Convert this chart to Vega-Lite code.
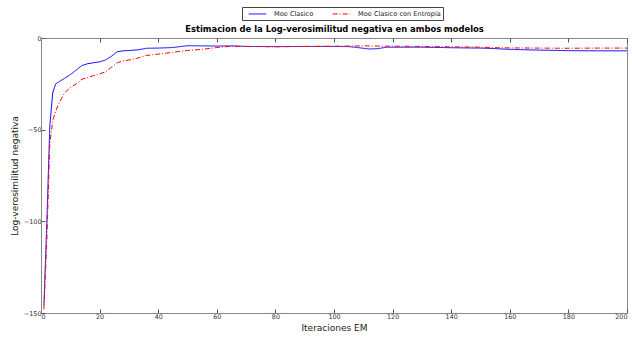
{
  "$schema": "https://vega.github.io/schema/vega-lite/v6.json",
  "autosize": {"type": "none"},
  "width": 586,
  "height": 275,
  "padding": {"left": 41, "top": 38, "right": 5, "bottom": 24},
  "background": "white",
  "config": {
    "font": "DejaVu Sans",
    "view": {"stroke": "#888888", "strokeWidth": 1},
    "axis": {"grid": false, "domainColor": "#888888", "tickColor": "#555555", "labelFont": "DejaVu Sans", "titleFont": "DejaVu Sans", "labelColor": "#333333", "titleColor": "#222222", "labelFontSize": 6.4, "titleFontSize": 9, "titleFontWeight": "normal", "tickSize": -4}
  },
  "data": {"values": [
    {"it":1,"v":-145.5,"s":"Moe Clasico"},{"it":2,"v":-100,"s":"Moe Clasico"},{"it":3,"v":-48,"s":"Moe Clasico"},{"it":4,"v":-30,"s":"Moe Clasico"},{"it":5,"v":-25,"s":"Moe Clasico"},{"it":6,"v":-24,"s":"Moe Clasico"},{"it":8,"v":-22,"s":"Moe Clasico"},{"it":10,"v":-20,"s":"Moe Clasico"},{"it":12,"v":-17.5,"s":"Moe Clasico"},{"it":14,"v":-15,"s":"Moe Clasico"},{"it":16,"v":-14,"s":"Moe Clasico"},{"it":18,"v":-13.5,"s":"Moe Clasico"},{"it":20,"v":-13,"s":"Moe Clasico"},{"it":22,"v":-12,"s":"Moe Clasico"},{"it":24,"v":-10,"s":"Moe Clasico"},{"it":26,"v":-7.5,"s":"Moe Clasico"},{"it":28,"v":-7,"s":"Moe Clasico"},{"it":30,"v":-6.8,"s":"Moe Clasico"},{"it":33,"v":-6.5,"s":"Moe Clasico"},{"it":36,"v":-5.6,"s":"Moe Clasico"},{"it":40,"v":-5.5,"s":"Moe Clasico"},{"it":45,"v":-5.2,"s":"Moe Clasico"},{"it":50,"v":-4.2,"s":"Moe Clasico"},{"it":55,"v":-4.3,"s":"Moe Clasico"},{"it":60,"v":-4.4,"s":"Moe Clasico"},{"it":65,"v":-4.3,"s":"Moe Clasico"},{"it":70,"v":-4.6,"s":"Moe Clasico"},{"it":80,"v":-4.7,"s":"Moe Clasico"},{"it":90,"v":-4.6,"s":"Moe Clasico"},{"it":100,"v":-4.6,"s":"Moe Clasico"},{"it":105,"v":-4.7,"s":"Moe Clasico"},{"it":108,"v":-5.2,"s":"Moe Clasico"},{"it":112,"v":-6,"s":"Moe Clasico"},{"it":115,"v":-5.8,"s":"Moe Clasico"},{"it":118,"v":-5,"s":"Moe Clasico"},{"it":125,"v":-5,"s":"Moe Clasico"},{"it":130,"v":-5,"s":"Moe Clasico"},{"it":140,"v":-5.3,"s":"Moe Clasico"},{"it":150,"v":-5.5,"s":"Moe Clasico"},{"it":155,"v":-5.8,"s":"Moe Clasico"},{"it":160,"v":-6.2,"s":"Moe Clasico"},{"it":170,"v":-6.6,"s":"Moe Clasico"},{"it":180,"v":-6.9,"s":"Moe Clasico"},{"it":190,"v":-7,"s":"Moe Clasico"},{"it":200,"v":-7,"s":"Moe Clasico"},
    {"it":1,"v":-148,"s":"Moe Clasico con Entropia"},{"it":2,"v":-110,"s":"Moe Clasico con Entropia"},{"it":3,"v":-58,"s":"Moe Clasico con Entropia"},{"it":4,"v":-45,"s":"Moe Clasico con Entropia"},{"it":5,"v":-40,"s":"Moe Clasico con Entropia"},{"it":6,"v":-36,"s":"Moe Clasico con Entropia"},{"it":8,"v":-30,"s":"Moe Clasico con Entropia"},{"it":10,"v":-27,"s":"Moe Clasico con Entropia"},{"it":12,"v":-25,"s":"Moe Clasico con Entropia"},{"it":14,"v":-22.5,"s":"Moe Clasico con Entropia"},{"it":16,"v":-21.5,"s":"Moe Clasico con Entropia"},{"it":18,"v":-20.5,"s":"Moe Clasico con Entropia"},{"it":20,"v":-19.5,"s":"Moe Clasico con Entropia"},{"it":22,"v":-18.5,"s":"Moe Clasico con Entropia"},{"it":24,"v":-16,"s":"Moe Clasico con Entropia"},{"it":26,"v":-13.5,"s":"Moe Clasico con Entropia"},{"it":28,"v":-12.5,"s":"Moe Clasico con Entropia"},{"it":30,"v":-12,"s":"Moe Clasico con Entropia"},{"it":33,"v":-11,"s":"Moe Clasico con Entropia"},{"it":36,"v":-9.5,"s":"Moe Clasico con Entropia"},{"it":40,"v":-8.8,"s":"Moe Clasico con Entropia"},{"it":45,"v":-7.8,"s":"Moe Clasico con Entropia"},{"it":50,"v":-6.8,"s":"Moe Clasico con Entropia"},{"it":55,"v":-6.2,"s":"Moe Clasico con Entropia"},{"it":60,"v":-5.2,"s":"Moe Clasico con Entropia"},{"it":65,"v":-4.5,"s":"Moe Clasico con Entropia"},{"it":70,"v":-4.6,"s":"Moe Clasico con Entropia"},{"it":80,"v":-4.8,"s":"Moe Clasico con Entropia"},{"it":90,"v":-4.6,"s":"Moe Clasico con Entropia"},{"it":100,"v":-4.5,"s":"Moe Clasico con Entropia"},{"it":110,"v":-4.3,"s":"Moe Clasico con Entropia"},{"it":120,"v":-4.5,"s":"Moe Clasico con Entropia"},{"it":130,"v":-4.6,"s":"Moe Clasico con Entropia"},{"it":140,"v":-4.8,"s":"Moe Clasico con Entropia"},{"it":150,"v":-5,"s":"Moe Clasico con Entropia"},{"it":155,"v":-5.3,"s":"Moe Clasico con Entropia"},{"it":160,"v":-5.4,"s":"Moe Clasico con Entropia"},{"it":170,"v":-5.5,"s":"Moe Clasico con Entropia"},{"it":180,"v":-5.6,"s":"Moe Clasico con Entropia"},{"it":190,"v":-5.5,"s":"Moe Clasico con Entropia"},{"it":200,"v":-5.5,"s":"Moe Clasico con Entropia"}
  ]},
  "layer": [
    {
      "mark": {"type": "line", "strokeWidth": 1, "clip": true},
      "encoding": {
        "x": {"field": "it", "type": "quantitative", "scale": {"domain": [0, 200], "nice": false, "zero": false}, "axis": {"orient": "bottom", "title": "Iteraciones EM", "values": [0,20,40,60,80,100,120,140,160,180,200], "labelPadding": 4, "titlePadding": 4}},
        "y": {"field": "v", "type": "quantitative", "scale": {"domain": [-150, 0], "nice": false}, "axis": {"title": "Log-verosimilitud negativa", "values": [-150,-100,-50,0], "labelPadding": 4, "titlePadding": 4}},
        "color": {"field": "s", "type": "nominal", "scale": {"domain": ["Moe Clasico", "Moe Clasico con Entropia"], "range": ["#0000ff", "#ff0000"]}, "legend": {"title": null, "orient": "none", "legendX": 201, "legendY": -31, "direction": "horizontal", "strokeColor": "#444444", "padding": 2, "fillColor": "white", "symbolType": "M-2.2,0H2.2", "symbolSize": 64, "symbolStrokeWidth": 1, "symbolOffset": 9, "labelOffset": 12, "labelFontSize": 6.6, "labelFont": "DejaVu Sans", "labelColor": "#222222", "columnPadding": 14}},
        "strokeDash": {"field": "s", "type": "nominal", "scale": {"domain": ["Moe Clasico", "Moe Clasico con Entropia"], "range": [[1, 0], [5, 2, 1, 2]]}, "legend": null}
      }
    },
    {
      "mark": {"type": "line", "strokeWidth": 1, "opacity": 0},
      "encoding": {
        "x": {"field": "it", "type": "quantitative", "axis": {"orient": "top", "title": "Estimacion de la Log-verosimilitud negativa en ambos modelos", "titleFontWeight": "bold", "titleFontSize": 8.4, "titleColor": "#000000", "titlePadding": 4, "labels": false, "domain": false, "values": [0,20,40,60,80,100,120,140,160,180,200]}},
        "y": {"field": "v", "type": "quantitative"},
        "detail": {"field": "s"}
      }
    }
  ],
  "resolve": {"axis": {"x": "independent"}}
}
